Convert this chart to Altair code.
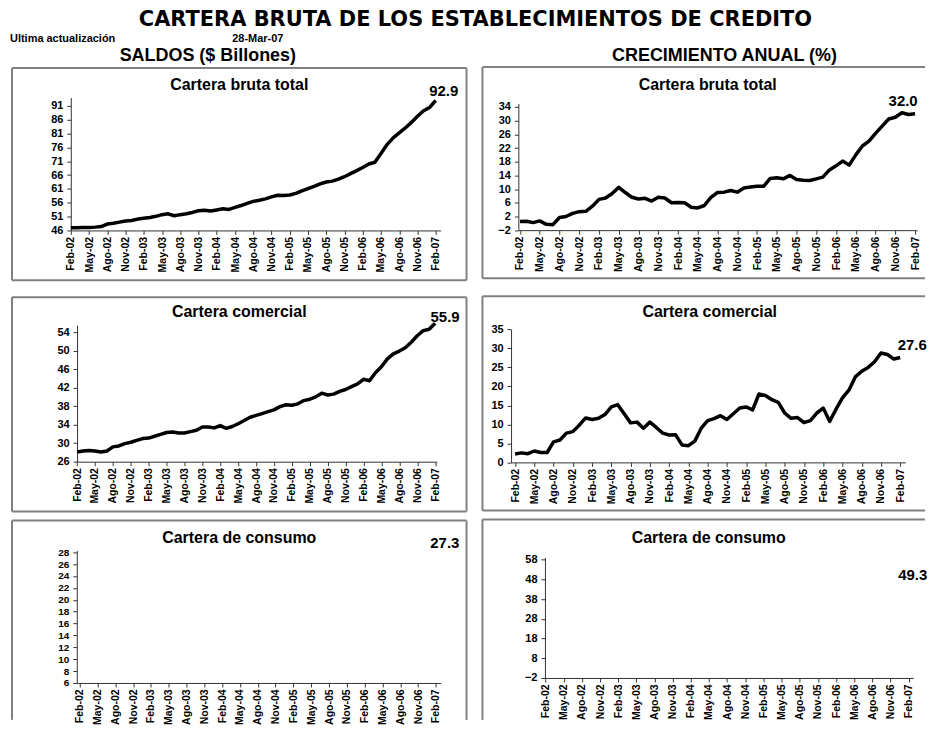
import json
import altair as alt
import pandas as pd

FONT = "Liberation Sans"
TITLE_FONT = "DejaVu Sans"
BORDER = "#808080"

MESES = ["Ene", "Feb", "Mar", "Abr", "May", "Jun", "Jul", "Ago", "Sep", "Oct", "Nov", "Dic"]
FECHAS = [f"{MESES[(1 + k) % 12]}-{2 + (1 + k) // 12:02d}" for k in range(61)]  # Feb-02 .. Feb-07
TICK_LABELS = ["Feb-02", "May-02", "Ago-02", "Nov-02", "Feb-03", "May-03", "Ago-03", "Nov-03",
               "Feb-04", "May-04", "Ago-04", "Nov-04", "Feb-05", "May-05", "Ago-05", "Nov-05",
               "Feb-06", "May-06", "Ago-06", "Nov-06", "Feb-07"]
TICK_POS = [FECHAS.index(t) for t in TICK_LABELS]

# Saldos ($ billones) - cartera bruta total
SALDO_TOTAL = [47.0, 47.0, 47.1, 47.1, 47.2, 47.4, 48.3, 48.6, 49.0, 49.4, 49.6,
               50.1, 50.4, 50.7, 51.1, 51.7, 52.0, 51.3, 51.7, 52.0, 52.5, 53.1, 53.3,
               53.0, 53.4, 53.8, 53.6, 54.3, 55.0, 55.8, 56.5, 56.9, 57.4, 58.1, 58.7,
               58.6, 58.8, 59.4, 60.3, 61.1, 61.9, 62.8, 63.5, 63.8, 64.5, 65.4, 66.5,
               67.6, 68.7, 70.0, 70.6, 73.8, 77.0, 79.4, 81.2, 83.0, 85.0, 87.2, 89.2,
               90.4, 92.9]
# Crecimiento anual (%) - cartera bruta total
CREC_TOTAL = [0.5, 0.6, 0.2, 0.7, -0.3, -0.4, 1.7, 2.0, 2.9, 3.4, 3.5,
              5.0, 7.0, 7.4, 8.7, 10.5, 9.0, 7.6, 7.1, 7.3, 6.5, 7.6, 7.4,
              6.0, 6.1, 6.0, 4.7, 4.5, 5.2, 7.6, 9.0, 9.1, 9.6, 9.1, 10.3,
              10.6, 10.8, 10.8, 13.1, 13.3, 13.0, 14.0, 12.8, 12.6, 12.5, 13.0, 13.5,
              15.6, 16.8, 18.2, 17.0, 20.0, 22.6, 24.0, 26.3, 28.4, 30.5, 31.0, 32.3,
              31.8, 32.0]
# Saldos - cartera comercial
SALDO_COM = [28.1, 28.3, 28.4, 28.3, 28.1, 28.3, 29.2, 29.4, 29.9, 30.2, 30.6,
             31.0, 31.1, 31.5, 31.9, 32.3, 32.4, 32.2, 32.2, 32.5, 32.8, 33.5, 33.5,
             33.3, 33.8, 33.2, 33.6, 34.2, 34.9, 35.6, 36.0, 36.4, 36.8, 37.2, 37.9,
             38.3, 38.2, 38.5, 39.2, 39.5, 40.0, 40.8, 40.4, 40.6, 41.2, 41.6, 42.2,
             42.8, 43.8, 43.5, 45.2, 46.5, 48.2, 49.3, 49.9, 50.6, 51.8, 53.2, 54.3,
             54.6, 55.9]
# Crecimiento anual - cartera comercial
CREC_COM = [2.2, 2.5, 2.3, 3.0, 2.6, 2.6, 5.4, 5.9, 7.7, 8.1, 9.8,
            11.7, 11.3, 11.6, 12.6, 14.6, 15.2, 12.8, 10.4, 10.6, 9.0, 10.6, 9.2,
            7.7, 7.2, 7.3, 4.6, 4.4, 5.6, 9.0, 11.0, 11.5, 12.3, 11.3, 12.8,
            14.3, 14.6, 13.8, 18.0, 17.6, 16.5, 15.8, 13.0, 11.6, 11.8, 10.5, 11.0,
            13.0, 14.3, 10.8, 14.0, 17.0, 19.0, 22.5, 24.0, 25.0, 26.5, 28.8, 28.4,
            27.2, 27.6]
# Cartera de consumo: only the latest values are shown
SALDO_CONSUMO_ULT = 27.3
CREC_CONSUMO_ULT = 49.3

LABEL_EXPR = f"{json.dumps(FECHAS)}[round(datum.value)]"
ONE = pd.DataFrame({"k": [0]})


def panel(cfg):
    cx0, cy0, cx1, cy1 = cfg["cell"]
    W, H = cx1 - cx0, cy1 - cy0

    def rx(p):
        return p - cx0

    def ry(p):
        return p - cy0

    xr0, xr1 = cfg["xr"]
    yb, yt = cfg["yr"]
    xsc = alt.Scale(domain=cfg["xdom"], range=[rx(xr0), rx(xr1)], nice=False, zero=False)
    ysc = alt.Scale(domain=cfg["ydom"], range=[ry(yb), ry(yt)], nice=False, zero=False)
    X = alt.X("i:Q", scale=xsc,
              axis=alt.Axis(values=TICK_POS, labelExpr=LABEL_EXPR, labelAngle=270,
                            labelFont=FONT, labelFontSize=10.5, labelFontWeight="bold",
                            labelColor="black", tickSize=4, tickColor="#333333",
                            domainColor="#333333", labelPadding=2, title=None, grid=False,
                            labelOverlap=False, labelFlush=False, offset=-(cy1 - yb)))
    Y = alt.Y("v:Q", scale=ysc,
              axis=alt.Axis(values=cfg["yticks"], labelFont=FONT, labelFontSize=cfg.get("ylab", 11),
                            labelFontWeight="bold", labelColor="black", tickSize=4,
                            tickColor="#333333", domainColor="#333333", labelPadding=4,
                            title=None, grid=False, labelOverlap=False, labelFlush=False,
                            offset=-(xr0 - cx0)))

    layers = []
    bx0, by0, bx1, by1 = cfg["border"]
    for side in cfg["sides"]:
        if side == "top":
            enc = dict(x=alt.value(rx(bx0)), x2=alt.value(rx(bx1)), y=alt.value(ry(by0)))
        elif side == "bottom":
            enc = dict(x=alt.value(rx(bx0)), x2=alt.value(rx(bx1)), y=alt.value(ry(by1)))
        elif side == "left":
            enc = dict(x=alt.value(rx(bx0)), y=alt.value(ry(by0)), y2=alt.value(ry(by1)))
        else:
            enc = dict(x=alt.value(rx(bx1)), y=alt.value(ry(by0)), y2=alt.value(ry(by1)))
        layers.append(alt.Chart(ONE).mark_rule(color=BORDER, strokeWidth=2).encode(**enc))

    texts = [dict(text=cfg["title"], x=cfg["title_pos"][0], y=cfg["title_pos"][1],
                  size=16, align="center")] + cfg.get("extra", [])
    for t in texts:
        layers.append(alt.Chart(ONE).mark_text(
            font=FONT, fontSize=t["size"], fontWeight="bold", color="black",
            align=t["align"], baseline="alphabetic").encode(
            x=alt.value(rx(t["x"])), y=alt.value(ry(t["y"])), text=alt.value(t["text"])))

    if cfg["series"] is not None:
        df = pd.DataFrame({"i": list(range(len(FECHAS))), "mes": FECHAS, "v": cfg["series"]})
        layers.append(alt.Chart(df).mark_line(color="black", strokeWidth=3.5,
                                              strokeJoin="round").encode(x=X, y=Y))
        lab = df.iloc[[-1]]
    else:
        lab = pd.DataFrame({"i": [len(FECHAS) - 1], "mes": [FECHAS[-1]], "v": [cfg["last"]]})
    ldx, ldy = cfg["lab_off"]
    layers.append(alt.Chart(lab).mark_text(
        font=FONT, fontSize=15, fontWeight="bold", color="black",
        align="center", baseline="alphabetic", dx=ldx, dy=ldy).encode(
        x=X, y=Y, text=alt.Text("v:Q", format=".1f")))

    return alt.layer(*layers).properties(width=W, height=H)


# header texts (page coordinates), drawn inside the first row's panels
HEADER_LEFT = [
    dict(text="Ultima actualización", x=10, y=39, size=11, align="left"),
    dict(text="28-Mar-07", x=233, y=39, size=11, align="left"),
    dict(text="SALDOS ($ Billones)", x=120, y=58, size=18, align="left"),
]
HEADER_RIGHT = [
    dict(text="CRECIMIENTO ANUAL (%)", x=614, y=58, size=18, align="left"),
]
MAIN_TITLE = "CARTERA BRUTA DE LOS ESTABLECIMIENTOS DE CREDITO"

PANELS = [
    dict(series=SALDO_TOTAL, title="Cartera bruta total", cell=(8, 8, 484, 295),
         xr=(71, 442), yr=(228, 94.6), xdom=[0, 60.8], ydom=[46, 94], yticks=list(range(46, 92, 5)),
         border=(12, 65, 468, 278), sides=["top", "bottom", "left", "right"],
         title_pos=(240, 87), lab_off=(8, -4.5), extra=HEADER_LEFT),
    dict(series=CREC_TOTAL, title="Cartera bruta total", cell=(484, 8, 928, 295),
         xr=(520, 920), yr=(227.7, 100.7), xdom=[-0.25, 60.3], ydom=[-2, 35], yticks=list(range(-2, 35, 4)),
         border=(484, 64, 928, 276), sides=["top", "bottom", "left"],
         title_pos=(710, 87), lab_off=(-12, -8), extra=HEADER_RIGHT),
    dict(series=SALDO_COM, title="Cartera comercial", cell=(8, 295, 484, 519),
         xr=(77.3, 438.3), yr=(460, 323), xdom=[0, 60.3], ydom=[26, 55.5], yticks=list(range(26, 55, 4)),
         border=(12, 295, 468, 510), sides=["top", "bottom", "left", "right"],
         title_pos=(240, 315), lab_off=(10, -1)),
    dict(series=CREC_COM, title="Cartera comercial", cell=(484, 295, 928, 519),
         xr=(512.7, 908.3), yr=(460.7, 327.3), xdom=[-0.62, 60.8], ydom=[0, 35], yticks=list(range(0, 36, 5)),
         border=(484, 294, 928, 509), sides=["top", "bottom", "left"],
         title_pos=(712, 315), lab_off=(12, -7.5)),
    dict(series=None, last=SALDO_CONSUMO_ULT, title="Cartera de consumo", cell=(8, 519, 484, 719),
         xr=(77, 442), yr=(682, 549), xdom=[-0.5, 60.8], ydom=[6, 28.3], yticks=list(range(6, 29, 2)),
         border=(12, 519, 468, 719), sides=["top", "left", "right"], ylab=10,
         title_pos=(240, 542), lab_off=(9, -8)),
    dict(series=None, last=CREC_CONSUMO_ULT, title="Cartera de consumo", cell=(484, 519, 928, 719),
         xr=(546.7, 916.2), yr=(677, 556), xdom=[-0.1, 60.75], ydom=[-2, 59.2], yticks=list(range(-2, 59, 10)),
         border=(484, 518, 928, 719), sides=["top", "left"],
         title_pos=(711, 542), lab_off=(4, 3)),
]

charts = [panel(c) for c in PANELS]
body = alt.concat(*charts, columns=2, spacing=0, bounds="flush")

# main title as a full-width text layer over the whole figure
title_layer = alt.Chart(ONE).mark_text(
    font=TITLE_FONT, fontSize=21, fontWeight="bold", color="black",
    align="center", baseline="alphabetic").encode(
    x=alt.value(477 - 8), y=alt.value(24 - 8), text=alt.value(MAIN_TITLE)
).properties(width=920, height=1)

chart = alt.vconcat(title_layer, body, spacing=-1, bounds="flush").properties(
    padding=0, background="white"
).configure(font=FONT).configure_view(stroke=None, strokeWidth=0)

chart.save("out.html", embed_options={"renderer": "svg", "actions": False})
